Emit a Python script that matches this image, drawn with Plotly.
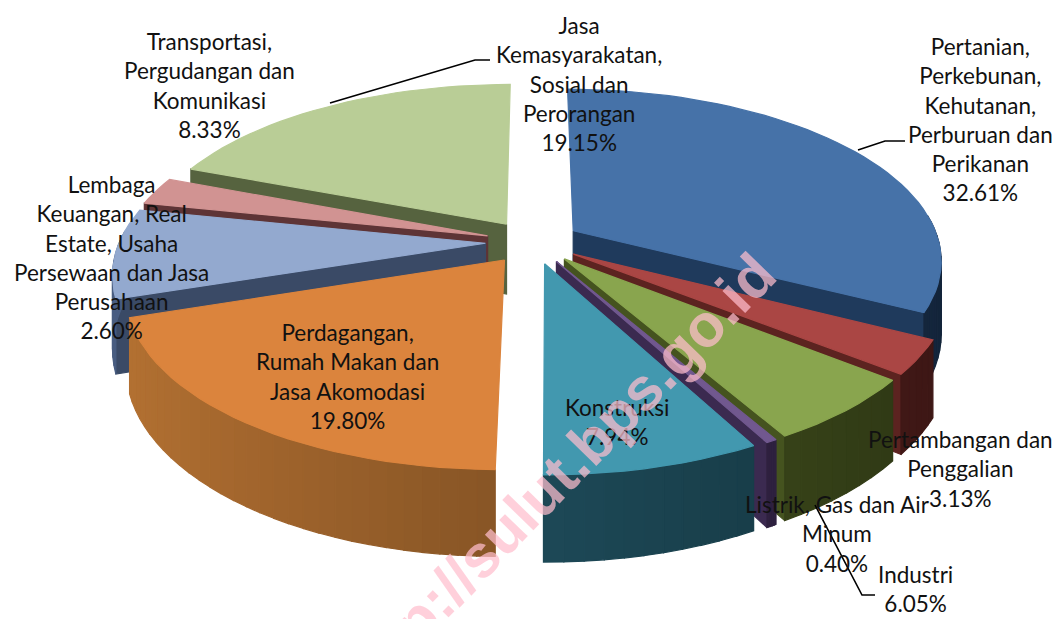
import numpy as np
import plotly.graph_objects as go

# ---------- data ----------
categories = ["Pertanian, Perkebunan, Kehutanan, Perburuan dan Perikanan",
              "Pertambangan dan Penggalian", "Industri", "Listrik, Gas dan Air Minum",
              "Konstruksi", "Perdagangan, Rumah Makan dan Jasa Akomodasi",
              "Transportasi, Pergudangan dan Komunikasi",
              "Lembaga Keuangan, Real Estate, Usaha Persewaan dan Jasa Perusahaan",
              "Jasa Kemasyarakatan, Sosial dan Perorangan"]
values = [32.61, 3.13, 6.05, 0.40, 7.94, 19.80, 8.33, 2.60, 19.15]
top_colors = ["#4672a8", "#aa4644", "#89a54e", "#71588f", "#4298af", "#db843d", "#93a9cf", "#d19392", "#b9cd96"]
wall_colors = ["#1f3a5c", "#5c2320", "#45531f", "#3b2a50", "#1f4d5c", "#8f5a28", "#3a4a66", "#5e3436", "#56633f"]

label_texts = ["Pertanian,<br>Perkebunan,<br>Kehutanan,<br>Perburuan dan<br>Perikanan<br>32.61%",
               "Pertambangan dan<br>Penggalian<br>3.13%",
               "Industri<br>6.05%",
               "Listrik, Gas dan Air<br>Minum<br>0.40%",
               "Konstruksi<br>7.94%",
               "Perdagangan,<br>Rumah Makan dan<br>Jasa Akomodasi<br>19.80%",
               "Transportasi,<br>Pergudangan dan<br>Komunikasi<br>8.33%",
               "Lembaga<br>Keuangan, Real<br>Estate, Usaha<br>Persewaan dan Jasa<br>Perusahaan<br>2.60%",
               "Jasa<br>Kemasyarakatan,<br>Sosial dan<br>Perorangan<br>19.15%"]
label_x = [980, 960, 915, 837, 617, 347, 209, 111, 579]
label_y = [119, 469, 589, 534, 422, 376, 85, 257, 84]
leader_x = [[858, 885, 905], [330, 475, 490], [815, 862, 875]]
leader_y = [[150, 141, 141], [103, 60, 60], [505, 595, 595]]

# ---------- projection of the exploded 3D pie ----------
CX, CY, R, TILT, PERSP, EXPLODE, DEPTH = 533, 242, 366, 0.46, 0.165, 0.13, 71


def project(X, Y, z=0.0):
    s = 1.0 / (1.0 - PERSP * np.asarray(Y))
    return CX + R * np.asarray(X) * s, CY + R * TILT * np.asarray(Y) * s + DEPTH * z * s


def shade(hex_color, f):
    rgb = [int(hex_color[i:i + 2], 16) for i in (1, 3, 5)]
    return "rgb(%d,%d,%d)" % tuple(min(255, int(c * f)) for c in rgb)


fig = go.Figure()


def poly(xs, ys, color, depth_key, faces):
    faces.append((depth_key, list(xs), list(ys), color))


faces = []
edges = np.cumsum([0] + values) / sum(values) * 2 * np.pi
for i in range(len(values)):
    a0, a1 = edges[i], edges[i + 1]
    m = (a0 + a1) / 2
    ox, oy = EXPLODE * np.sin(m), -EXPLODE * np.cos(m)
    th = np.linspace(a0, a1, max(6, int((a1 - a0) * 25)))
    ex, ey = ox + np.sin(th), oy - np.cos(th)
    key = oy + 0.6 * np.mean(-np.cos(th))
    # radial cut faces: only those that face the viewer
    for a, facing in ((a0, -np.sin(a0)), (a1, np.sin(a1))):
        if facing < 0.05:
            continue
        px, py = ox + np.sin(a), oy - np.cos(a)
        x1, y1 = project(np.array([ox, px, px, ox]), np.array([oy, py, py, oy]),
                         np.array([0, 0, 1, 1]))
        poly(x1, y1, wall_colors[i], key - 0.002, faces)
    # outer wall strips with a left-to-right gradient
    for j in range(len(th) - 1):
        mid = (th[j] + th[j + 1]) / 2
        if np.cos(mid) > 0.08:
            continue
        f = 1.0 + 0.32 * (-np.sin(mid)) - 0.05
        xa = np.array([ex[j], ex[j + 1], ex[j + 1], ex[j]])
        ya = np.array([ey[j], ey[j + 1], ey[j + 1], ey[j]])
        x1, y1 = project(xa, ya, np.array([0, 0, 1, 1]))
        poly(x1, y1, shade(wall_colors[i], f), key - 0.001, faces)
    # top face
    x1, y1 = project(np.r_[ox, ex], np.r_[oy, ey])
    poly(x1, y1, top_colors[i], key, faces)

for key, xs, ys, color in sorted(faces, key=lambda f: f[0]):
    fig.add_trace(go.Scatter(x=xs + xs[:1], y=ys + ys[:1], mode="lines", fill="toself",
                             fillcolor=color, line=dict(color=color, width=1.2),
                             hoverinfo="skip", showlegend=False))

for lx, ly in zip(leader_x, leader_y):
    fig.add_trace(go.Scatter(x=lx, y=ly, mode="lines", line=dict(color="black", width=1.6),
                             hoverinfo="skip", showlegend=False))

for t, x, y in zip(label_texts, label_x, label_y):
    fig.add_annotation(x=x, y=y, text=t, showarrow=False, xanchor="center", yanchor="middle",
                       align="center", font=dict(family="Lato, Open Sans, sans-serif", size=22.5, color="#111"))

fig.add_annotation(x=557, y=476, text="<b>http://sulut.bps.go.id</b>", showarrow=False, textangle=-45.7,
                   font=dict(family="Liberation Sans, Arial", size=60, color="rgba(255,190,205,0.72)"))

fig.update_layout(width=1055, height=619, margin=dict(l=0, r=0, t=0, b=0),
                  paper_bgcolor="white", plot_bgcolor="white", showlegend=False,
                  xaxis=dict(range=[0, 1055], visible=False, fixedrange=True),
                  yaxis=dict(range=[619, 0], visible=False, fixedrange=True))
fig.write_html("out.html", post_script="document.body.style.margin='0';document.body.style.overflow='hidden';",
               config={"displayModeBar": False})
